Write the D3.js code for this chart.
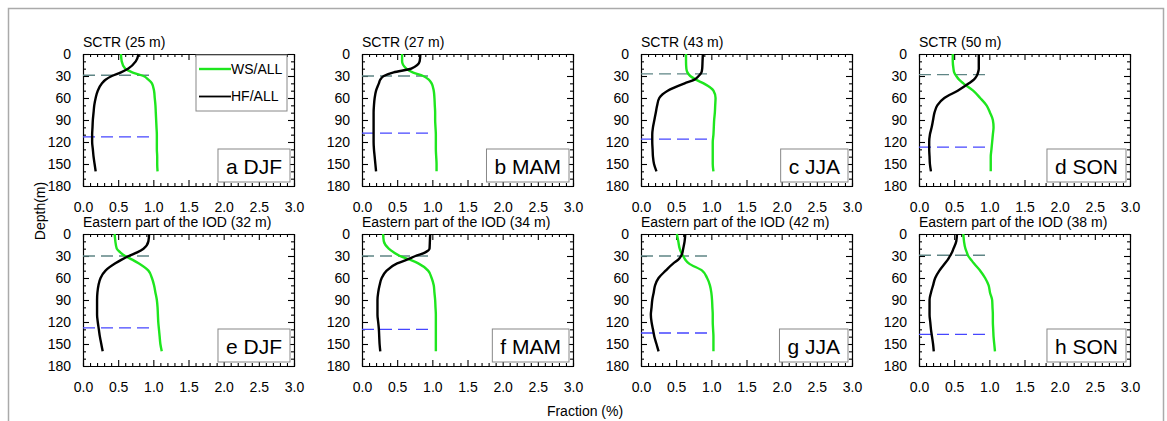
<!DOCTYPE html>
<html>
<head>
<meta charset="utf-8">
<script src="https://cdn.jsdelivr.net/npm/d3@7"></script>
<style>
  body { margin: 0; background: #fff; }
  svg text { font-family: "Liberation Sans", Arial, Helvetica, sans-serif; fill: #000; }
</style>
</head>
<body>
<svg id="chart"></svg>
<script>
const width = 1167, height = 421;

// depth grid (m), shared by all profiles
const depths = [0, 10, 20, 25, 30, 35, 40, 50, 60, 70, 80, 90, 100, 110, 120, 130, 140, 150, 160];

// panel info
const letters = ["a", "b", "c", "d", "e", "f", "g", "h"];
const seasons = ["DJF", "MAM", "JJA", "SON", "DJF", "MAM", "JJA", "SON"];
const regions = ["SCTR", "SCTR", "SCTR", "SCTR",
  "Eastern part of the IOD", "Eastern part of the IOD", "Eastern part of the IOD", "Eastern part of the IOD"];
const titleDepths = [25, 27, 43, 50, 32, 34, 42, 38];
const grayDash = [29, 30, 27, 28, 30, 30, 30, 29];
const blueDash = [113, 108, 116, 127, 128, 130, 135, 137];
const dashEnd = 1.02;

// WS/ALL fraction per panel (a..h), on depths
const wsSeries = [
  [0.54, 0.55, 0.60, 0.70, 0.86, 0.93, 0.98, 1.01, 1.02, 1.03, 1.035, 1.04, 1.045, 1.05, 1.05, 1.05, 1.055, 1.055, 1.06],
  [0.57, 0.57, 0.63, 0.72, 0.87, 0.95, 0.99, 1.02, 1.03, 1.035, 1.04, 1.04, 1.045, 1.05, 1.05, 1.05, 1.055, 1.06, 1.06],
  [0.64, 0.64, 0.645, 0.66, 0.70, 0.78, 0.89, 1.03, 1.06, 1.055, 1.05, 1.04, 1.035, 1.03, 1.02, 1.02, 1.02, 1.02, 1.03],
  [0.48, 0.48, 0.49, 0.50, 0.53, 0.57, 0.63, 0.77, 0.87, 0.96, 1.01, 1.05, 1.06, 1.05, 1.04, 1.03, 1.02, 1.02, 1.02],
  [0.45, 0.46, 0.48, 0.53, 0.60, 0.70, 0.79, 0.93, 0.98, 1.01, 1.03, 1.05, 1.06, 1.065, 1.07, 1.08, 1.09, 1.10, 1.12],
  [0.30, 0.31, 0.38, 0.45, 0.54, 0.68, 0.80, 0.94, 0.99, 1.02, 1.03, 1.04, 1.045, 1.05, 1.05, 1.05, 1.05, 1.05, 1.05],
  [0.51, 0.53, 0.55, 0.57, 0.60, 0.63, 0.68, 0.87, 0.94, 0.98, 1.00, 1.01, 1.015, 1.02, 1.02, 1.025, 1.03, 1.03, 1.03],
  [0.63, 0.64, 0.66, 0.68, 0.70, 0.74, 0.78, 0.87, 0.94, 0.99, 1.01, 1.04, 1.045, 1.05, 1.05, 1.055, 1.06, 1.07, 1.08]
];

// HF/ALL fraction per panel (a..h), on depths
const hfSeries = [
  [0.79, 0.75, 0.64, 0.54, 0.41, 0.32, 0.27, 0.21, 0.18, 0.16, 0.15, 0.14, 0.135, 0.13, 0.13, 0.14, 0.15, 0.165, 0.18],
  [0.83, 0.82, 0.70, 0.45, 0.31, 0.26, 0.24, 0.20, 0.18, 0.17, 0.165, 0.165, 0.165, 0.165, 0.165, 0.17, 0.18, 0.19, 0.20],
  [0.88, 0.875, 0.87, 0.86, 0.82, 0.76, 0.62, 0.38, 0.26, 0.23, 0.21, 0.19, 0.17, 0.16, 0.16, 0.165, 0.17, 0.185, 0.22],
  [0.85, 0.85, 0.85, 0.84, 0.82, 0.78, 0.71, 0.55, 0.36, 0.26, 0.22, 0.20, 0.18, 0.155, 0.145, 0.145, 0.15, 0.155, 0.17],
  [0.94, 0.93, 0.86, 0.77, 0.65, 0.55, 0.46, 0.32, 0.25, 0.22, 0.205, 0.20, 0.20, 0.20, 0.21, 0.225, 0.24, 0.26, 0.28],
  [0.97, 0.965, 0.96, 0.90, 0.76, 0.64, 0.50, 0.35, 0.28, 0.25, 0.23, 0.22, 0.22, 0.22, 0.23, 0.24, 0.245, 0.25, 0.26],
  [0.63, 0.62, 0.60, 0.59, 0.57, 0.53, 0.46, 0.35, 0.25, 0.20, 0.18, 0.16, 0.15, 0.14, 0.15, 0.17, 0.19, 0.22, 0.25],
  [0.54, 0.53, 0.49, 0.47, 0.44, 0.41, 0.37, 0.29, 0.23, 0.20, 0.17, 0.15, 0.15, 0.15, 0.16, 0.17, 0.185, 0.20, 0.21]
];

const xTicks = [0, 0.5, 1, 1.5, 2, 2.5, 3];
const yTicks = [0, 30, 60, 90, 120, 150, 180];
const legendNames = ["WS/ALL", "HF/ALL"];

// layout
const colX = [83, 362, 641, 919];
const rowY = [54, 234];
const plotW = 211, plotH = 132;

const wsColor = "#1ee61e", hfColor = "#000000";
const grayColor = "#5f8585", blueColor = "#4646ff";

const svg = d3.select("#chart")
    .attr("width", width)
    .attr("height", height);

// outer frame
svg.append("rect")
    .attr("x", 8.5).attr("y", 8.5)
    .attr("width", 1155).attr("height", 440)
    .attr("fill", "none")
    .attr("stroke", "#aaa")
    .attr("stroke-width", 1.5);

const xScale = d3.scaleLinear().domain([0, 3]).range([0, plotW]);
const yScale = d3.scaleLinear().domain([0, 180]).range([0, plotH]);

const line = d3.line()
    .x(d => xScale(d[0]))
    .y(d => yScale(d[1]))
    .curve(d3.curveMonotoneY);

const minorX = d3.range(1, 30).filter(v => v % 5 !== 0).map(v => v / 10);
const minorY = d3.range(10, 180, 10).filter(v => v % 30 !== 0);

letters.forEach(function(letter, i) {
    const g = svg.append("g")
        .attr("transform", `translate(${colX[i % 4]}, ${rowY[Math.floor(i / 4)]})`);

    // minor ticks (inward) on all sides
    g.append("g").attr("transform", `translate(0, ${plotH})`)
        .call(d3.axisBottom(xScale).tickValues(minorX).tickSize(-3).tickFormat(""));
    g.append("g")
        .call(d3.axisTop(xScale).tickValues(minorX).tickSize(-3).tickFormat(""));
    g.append("g")
        .call(d3.axisLeft(yScale).tickValues(minorY).tickSize(-3).tickFormat(""));
    g.append("g").attr("transform", `translate(${plotW}, 0)`)
        .call(d3.axisRight(yScale).tickValues(minorY).tickSize(-3).tickFormat(""));

    // major axes
    g.append("g")
        .attr("transform", `translate(0, ${plotH})`)
        .call(d3.axisBottom(xScale).tickValues(xTicks).tickSize(-6).tickSizeOuter(0)
            .tickPadding(16).tickFormat(d3.format(".1f")));
    g.append("g")
        .call(d3.axisTop(xScale).tickValues(xTicks).tickSize(-6).tickSizeOuter(0).tickFormat(""));
    g.append("g")
        .call(d3.axisLeft(yScale).tickValues(yTicks).tickSize(-6).tickSizeOuter(0).tickPadding(12));
    g.append("g")
        .attr("transform", `translate(${plotW}, 0)`)
        .call(d3.axisRight(yScale).tickValues(yTicks).tickSize(-6).tickSizeOuter(0).tickFormat(""));

    g.selectAll("text")
        .style("font-size", "14px")
        .style("font-family", "\"Liberation Sans\", Arial, Helvetica, sans-serif");
    g.selectAll(".domain, .tick line")
        .attr("stroke", "#000")
        .attr("stroke-width", 1.1);

    // title
    g.append("text")
        .attr("x", 0)
        .attr("y", -7)
        .style("font-size", "14px")
        .text(`${regions[i]} (${titleDepths[i]} m)`);

    // dashed reference depths
    g.append("line")
        .attr("x1", xScale(0)).attr("x2", xScale(dashEnd))
        .attr("y1", yScale(grayDash[i])).attr("y2", yScale(grayDash[i]))
        .attr("stroke", grayColor)
        .attr("stroke-width", 1.3)
        .attr("stroke-dasharray", "12,6");
    g.append("line")
        .attr("x1", xScale(0)).attr("x2", xScale(dashEnd))
        .attr("y1", yScale(blueDash[i])).attr("y2", yScale(blueDash[i]))
        .attr("stroke", blueColor)
        .attr("stroke-width", 1.3)
        .attr("stroke-dasharray", "12,6");

    // profiles
    g.append("path")
        .datum(depths.map((d, k) => [wsSeries[i][k], d]))
        .attr("d", line)
        .attr("fill", "none")
        .attr("stroke", wsColor)
        .attr("stroke-width", 2.4);
    g.append("path")
        .datum(depths.map((d, k) => [hfSeries[i][k], d]))
        .attr("d", line)
        .attr("fill", "none")
        .attr("stroke", hfColor)
        .attr("stroke-width", 2.4);

    // panel label box
    const box = g.append("rect");
    const label = g.append("text")
        .attr("text-anchor", "end")
        .attr("x", plotW - 12)
        .attr("y", plotH - 12)
        .style("font-size", "21px")
        .text(`${letter} ${seasons[i]}`);
    const tw = label.node().getComputedTextLength();
    box.attr("x", plotW - 4 - tw - 16)
        .attr("y", plotH - 4 - 33)
        .attr("width", tw + 16)
        .attr("height", 33)
        .attr("fill", "#fff")
        .attr("stroke", "#888")
        .attr("stroke-width", 1);

    // legend in the first panel
    if (i === 0) {
        const leg = g.append("g");
        leg.append("rect")
            .attr("x", 113).attr("y", 1)
            .attr("width", 91).attr("height", 56)
            .attr("fill", "#fff")
            .attr("stroke", "#888")
            .attr("stroke-width", 1);
        legendNames.forEach(function(name, k) {
            const ly = 15 + k * 27.5;
            leg.append("line")
                .attr("x1", 116).attr("x2", 148)
                .attr("y1", ly).attr("y2", ly)
                .attr("stroke", k === 0 ? wsColor : hfColor)
                .attr("stroke-width", k === 0 ? 2.4 : 1.8);
            leg.append("text")
                .attr("x", 148)
                .attr("y", ly)
                .attr("dy", "0.35em")
                .style("font-size", "14px")
                .text(name);
        });
    }
});

// shared axis titles
svg.append("text")
    .attr("transform", "translate(45, 211) rotate(-90)")
    .attr("text-anchor", "middle")
    .style("font-size", "14px")
    .text("Depth(m)");

svg.append("text")
    .attr("x", 585)
    .attr("y", 416)
    .attr("text-anchor", "middle")
    .style("font-size", "14px")
    .text("Fraction (%)");
</script>
</body>
</html>
